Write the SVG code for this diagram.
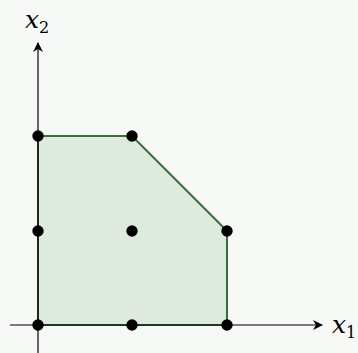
<svg xmlns="http://www.w3.org/2000/svg" width="358" height="353" viewBox="0 0 358 353">
<style>
.axis{stroke:#000;stroke-width:1.2;fill:none}
.dot{fill:#000}
.lbl{font-family:"DejaVu Serif","Liberation Serif",serif;font-style:italic;font-size:25px;fill:#000}
.sub{font-family:"DejaVu Serif","Liberation Serif",serif;font-size:16px;fill:#000}
</style>
<defs>
<marker id="arr" viewBox="0 0 10 10" refX="9" refY="5" markerWidth="10" markerHeight="10" markerUnits="userSpaceOnUse" orient="auto">
<path d="M0,0 L10,5 L0,10 L3,5 Z" fill="#000"/>
</marker>
</defs>
<rect width="358" height="353" fill="#f7f9f7"/>
<g id="region">
<polygon points="38,325 38,136 132,136 227,231 227,325" fill="#dfeadf" stroke="#3b6e3b" stroke-width="2"/>
</g>
<g id="connectors">
<line class="axis" x1="10" y1="325" x2="322" y2="325" marker-end="url(#arr)"/>
<line class="axis" x1="38" y1="353" x2="38" y2="43" marker-end="url(#arr)"/>
</g>
<g id="points">
<circle class="dot" cx="38" cy="325" r="5.7"/>
<circle class="dot" cx="132" cy="325" r="5.7"/>
<circle class="dot" cx="227" cy="325" r="5.7"/>
<circle class="dot" cx="38" cy="231" r="5.7"/>
<circle class="dot" cx="132" cy="231" r="5.7"/>
<circle class="dot" cx="227" cy="231" r="5.7"/>
<circle class="dot" cx="38" cy="136" r="5.7"/>
<circle class="dot" cx="132" cy="136" r="5.7"/>
</g>
<g id="label-x1"><text class="lbl" x="332" y="333">x</text><text class="sub" x="346" y="338">1</text></g>
<g id="label-x2"><text class="lbl" x="25" y="28">x</text><text class="sub" x="39" y="33">2</text></g>
</svg>
